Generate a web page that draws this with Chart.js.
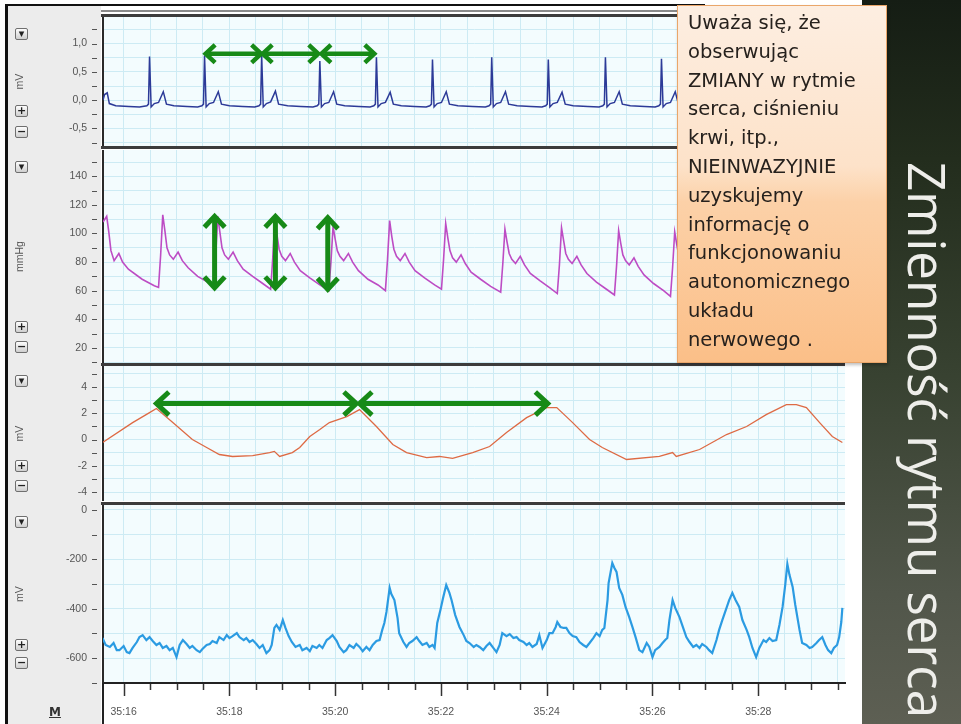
<!DOCTYPE html>
<html><head><meta charset="utf-8">
<script src="https://cdn.jsdelivr.net/npm/chart.js@4.4.1/dist/chart.umd.min.js"></script>
<style>
html,body{margin:0;padding:0;background:#fff;}
#stage{position:relative;width:961px;height:724px;overflow:hidden;background:#fff;font-family:'Liberation Sans',Arial,sans-serif;}
.abs{position:absolute;}
canvas{position:absolute;}
.btn{position:absolute;left:15px;width:11px;height:10px;border:1px solid #6f6f6f;border-radius:2px;background:linear-gradient(#fdfdfd,#cfcfcf);font:bold 11px/10px 'DejaVu Sans',sans-serif;color:#222;text-align:center;}
.sep{position:absolute;left:101px;width:744px;height:3px;background:#3c3c3c;}
#note{position:absolute;left:677px;top:5px;width:210px;height:358px;box-sizing:border-box;border:1px solid #eaa66a;
 background:linear-gradient(180deg,#fdeee1 0%,#fde2c9 45%,#fcd1a8 55%,#fbbf88 100%);box-shadow:1px 2px 3px rgba(0,0,0,.25);
 font-family:'DejaVu Sans',sans-serif;font-size:19.5px;line-height:28.8px;color:#26211d;padding:3px 0 0 10px;white-space:nowrap;}
#side{position:absolute;left:862px;top:0;width:99px;height:724px;background:linear-gradient(180deg,#151d14 0%,#232d1d 22%,#384231 52%,#51564a 82%,#5d5f53 100%);}
#title{position:absolute;left:953px;top:162px;transform:rotate(90deg);transform-origin:0 0;font-family:'Open Sans',sans-serif;font-size:51px;line-height:51px;color:#eeeeea;white-space:nowrap;font-weight:400;}
</style></head><body>
<div id="stage">
 <div id="side"></div>
 <div class="abs" style="left:8px;top:6px;width:93px;height:718px;background:#ececec;"></div>
 <div class="abs" style="left:5px;top:4px;width:3px;height:720px;background:#111;"></div>
 <div class="abs" style="left:5px;top:4px;width:700px;height:2px;background:#111;"></div>
 <div class="abs" style="left:101px;top:10px;width:744px;height:2px;background:#8a8a8a;"></div>
 <canvas id="c1" width="855" height="129" style="left:8px;top:17px;"></canvas>
 <canvas id="c2" width="855" height="213" style="left:8px;top:150px;"></canvas>
 <canvas id="c3" width="855" height="135" style="left:8px;top:366px;"></canvas>
 <canvas id="c4" width="855" height="219" style="left:8px;top:505px;"></canvas>
 <div class="sep" style="top:14px;height:3px;"></div>
 <div class="sep" style="top:146px;"></div>
 <div class="sep" style="top:363px;"></div>
 <div class="sep" style="top:502px;"></div>
 <div class="btn" style="top:28px;">▾</div><div class="btn" style="top:105px;">+</div><div class="btn" style="top:126px;">−</div>
 <div class="btn" style="top:161px;">▾</div><div class="btn" style="top:321px;">+</div><div class="btn" style="top:341px;">−</div>
 <div class="btn" style="top:375px;">▾</div><div class="btn" style="top:460px;">+</div><div class="btn" style="top:480px;">−</div>
 <div class="btn" style="top:516px;">▾</div><div class="btn" style="top:639px;">+</div><div class="btn" style="top:657px;">−</div>
 <div class="abs" style="left:49px;top:705px;font:bold 12px 'DejaVu Sans',sans-serif;color:#333;text-decoration:underline;">M</div>
 <div id="note">Uważa się, że<br>obserwując<br>ZMIANY w rytmie<br>serca, ciśnieniu<br>krwi, itp.,<br>NIEINWAZYJNIE<br>uzyskujemy<br>informację o<br>funkcjonowaniu<br>autonomicznego<br>układu<br>nerwowego .</div>
 <div id="title">Zmienność rytmu serca</div>
</div>
<script>
// ---------- time axis (seconds after 35:00) ----------
const X_MIN = 15.61, X_MAX = 29.64;
const timeLabelSeconds = [16, 18, 20, 22, 24, 26, 28];
const timeLabels = ['35:16', '35:18', '35:20', '35:22', '35:24', '35:26', '35:28'];

// ---------- ECG (mV) ----------
const ecgTime = [15.61,15.64,15.69,15.73,15.85,16.10,16.30,
 16.44,16.47,16.49,16.52,16.58,16.66,16.75,16.81,16.95,17.20,17.40,
 17.48,17.51,17.53,17.56,17.62,17.70,17.79,17.85,18.00,18.25,18.48,
 18.56,18.59,18.61,18.64,18.70,18.78,18.87,18.93,19.10,19.35,19.58,
 19.66,19.69,19.71,19.74,19.80,19.88,19.97,20.03,20.18,20.45,20.66,
 20.73,20.76,20.78,20.81,20.87,20.95,21.04,21.10,21.25,21.50,21.72,
 21.79,21.82,21.84,21.87,21.93,22.01,22.10,22.16,22.32,22.60,22.84,
 22.91,22.94,22.96,22.99,23.05,23.13,23.22,23.28,23.44,23.70,23.91,
 23.98,24.01,24.03,24.06,24.12,24.20,24.29,24.35,24.50,24.78,24.99,
 25.06,25.09,25.11,25.14,25.20,25.28,25.37,25.43,25.58,25.85,26.05,
 26.12,26.15,26.17,26.20,26.26,26.34,26.43,26.49,26.64,26.92,27.13,
 27.20,27.23,27.25,27.28,27.34,27.42,27.51,27.57,27.72,28.00,28.21,
 28.28,28.31,28.33,28.36,28.42,28.50,28.59,28.65,28.80,29.05,29.28,
 29.35,29.38,29.40,29.43,29.49,29.57,29.64];
const ecgMv = [0.00,0.10,0.13,-0.06,-0.10,-0.11,-0.12,
 -0.10,-0.07,0.77,-0.12,-0.06,-0.04,0.15,-0.07,-0.10,-0.11,-0.12,
 -0.10,-0.07,0.79,-0.12,-0.06,-0.04,0.15,-0.07,-0.10,-0.11,-0.12,
 -0.10,-0.07,0.80,-0.12,-0.06,-0.03,0.16,-0.07,-0.10,-0.11,-0.12,
 -0.10,-0.07,0.69,-0.12,-0.06,-0.04,0.15,-0.07,-0.10,-0.11,-0.12,
 -0.10,-0.07,0.76,-0.12,-0.06,-0.04,0.14,-0.07,-0.10,-0.11,-0.12,
 -0.10,-0.07,0.72,-0.12,-0.06,-0.04,0.15,-0.07,-0.10,-0.11,-0.12,
 -0.10,-0.07,0.76,-0.12,-0.06,-0.04,0.15,-0.07,-0.10,-0.11,-0.12,
 -0.10,-0.07,0.72,-0.12,-0.06,-0.04,0.14,-0.07,-0.10,-0.11,-0.12,
 -0.10,-0.07,0.76,-0.12,-0.06,-0.04,0.15,-0.07,-0.10,-0.11,-0.12,
 -0.10,-0.07,0.73,-0.12,-0.06,-0.04,0.15,-0.07,-0.10,-0.11,-0.12,
 -0.10,-0.07,0.74,-0.12,-0.06,-0.04,0.15,-0.07,-0.10,-0.11,-0.12,
 -0.10,-0.07,0.73,-0.12,-0.06,-0.04,0.15,-0.07,-0.10,-0.11,-0.12,
 -0.10,-0.07,0.75,-0.12,-0.06,-0.04,0.05];

// ---------- blood pressure (mmHg) ----------
const bpTime = [15.61,15.68,15.72,15.76,15.82,15.91,15.98,16.09,16.35,16.58,
 16.66,16.70,16.74,16.78,16.82,16.87,16.94,17.03,17.11,17.22,17.40,17.59,
 17.70,17.74,17.78,17.82,17.86,17.91,17.98,18.07,18.15,18.26,18.44,18.63,
 18.78,18.82,18.86,18.90,18.94,18.99,19.06,19.15,19.23,19.34,19.52,19.71,
 19.88,19.92,19.96,20.00,20.04,20.09,20.16,20.25,20.33,20.44,20.62,20.81,
 20.95,20.99,21.03,21.07,21.11,21.16,21.23,21.32,21.40,21.51,21.69,21.88,
 22.01,22.05,22.09,22.13,22.17,22.22,22.29,22.38,22.46,22.57,22.75,22.94,
 23.13,23.17,23.21,23.25,23.29,23.34,23.41,23.50,23.58,23.69,23.87,24.06,
 24.20,24.24,24.28,24.32,24.36,24.41,24.48,24.57,24.65,24.76,24.94,25.13,
 25.28,25.32,25.36,25.40,25.44,25.49,25.56,25.65,25.73,25.84,26.02,26.21,
 26.34,26.38,26.42,26.46,26.50,26.55,26.62,26.71,26.79,26.90,27.08,27.27,
 27.42,27.46,27.50,27.54,27.58,27.63,27.70,27.79,27.87,27.98,28.16,28.35,
 28.50,28.54,28.58,28.62,28.66,28.71,28.78,28.87,28.95,29.06,29.24,29.43,
 29.57,29.64];
const bpMmHg = [108,112,101,88,81,86,80,75,68,63.5,
 62.3,85,113,102,90,85,82,87,81,76,70,66,
 62,84,112,101,90,85,82,87,81,75,70,65,
 61,83,110,99,89,84,81,86,80,74,69,64,
 60,80,105,96,88,84,81,86,80,74,68,64,
 60,82,109,98,89,84,81,86,80,74,69,64,
 61,82,107,97,88,83,80,85,79,73,68,63,
 59,79,103,94,86,82,79,84,78,72,67,62,
 58,78,104,95,86,82,79,84,78,72,66,61,
 57,77,102,93,85,81,78,83,77,71,65,60,
 56,76,101,92,84,80,77,82,76,70,65,60,
 57,78,103,94,85,81,78,83,77,71,66,61,
 57,77,102,93,85,81,78,83,77,71,66,61,
 58,84];

// ---------- respiration (mV) ----------
const respTime = [15.60,16.17,16.49,16.62,16.93,17.30,17.57,17.81,18.06,18.44,18.76,18.85,18.95,19.19,19.33,19.52,19.71,19.89,20.22,20.46,
 20.78,21.09,21.35,21.73,21.97,22.22,22.60,22.92,23.24,23.62,24.00,24.19,24.49,24.81,25.05,25.51,26.13,26.38,26.45,26.89,
 27.40,27.78,28.15,28.53,28.72,28.91,29.16,29.40,29.59];
const respMv = [-0.23,1.29,2.05,2.36,1.29,0.00,-0.61,-1.14,-1.29,-1.22,-0.99,-0.90,-1.29,-0.99,-0.61,0.23,0.76,1.29,1.75,2.28,
 0.99,-0.38,-0.99,-1.37,-1.29,-1.44,-0.99,-0.53,0.53,1.67,2.43,2.43,1.29,0.00,-0.61,-1.52,-1.29,-0.99,-1.29,-0.76,
 0.38,0.99,1.90,2.66,2.66,2.43,1.29,0.23,-0.23];

// ---------- channel 4 (mV) ----------
const ch4Time = [15.60,15.66,15.74,15.81,15.87,15.92,16.00,16.06,16.11,16.17,16.25,16.30,16.36,16.43,16.49,16.55,16.62,16.68,16.74,16.81,
 16.87,16.93,17.00,17.06,17.12,17.19,17.25,17.30,17.38,17.44,17.49,17.57,17.63,17.68,17.76,17.81,17.89,17.95,18.00,18.06,
 18.14,18.19,18.27,18.32,18.38,18.44,18.51,18.57,18.63,18.70,18.76,18.80,18.85,18.89,18.95,19.01,19.06,19.12,19.18,19.25,
 19.33,19.38,19.46,19.52,19.57,19.65,19.70,19.76,19.84,19.89,19.95,20.03,20.08,20.16,20.21,20.27,20.35,20.40,20.46,20.52,
 20.59,20.65,20.71,20.78,20.84,20.89,20.93,20.97,21.03,21.06,21.12,21.18,21.21,21.29,21.35,21.40,21.46,21.54,21.59,21.65,
 21.73,21.78,21.84,21.88,21.93,21.99,22.04,22.10,22.16,22.20,22.27,22.35,22.43,22.48,22.54,22.62,22.67,22.73,22.80,22.86,
 22.92,22.99,23.05,23.11,23.16,23.24,23.30,23.37,23.43,23.48,23.56,23.62,23.67,23.73,23.81,23.86,23.92,24.00,24.05,24.11,
 24.17,24.20,24.26,24.32,24.37,24.43,24.49,24.56,24.62,24.69,24.75,24.81,24.88,24.94,25.00,25.05,25.09,25.15,25.17,25.24,
 25.28,25.32,25.37,25.43,25.49,25.56,25.62,25.68,25.75,25.81,25.89,25.94,26.00,26.05,26.13,26.19,26.24,26.28,26.32,26.38,
 26.43,26.51,26.58,26.64,26.70,26.77,26.83,26.89,26.94,27.02,27.07,27.13,27.21,27.26,27.32,27.40,27.45,27.51,27.57,27.64,
 27.70,27.78,27.83,27.89,27.96,28.02,28.10,28.15,28.21,28.27,28.34,28.40,28.46,28.51,28.55,28.59,28.65,28.70,28.78,28.83,
 28.91,28.97,29.02,29.10,29.15,29.21,29.27,29.32,29.38,29.43,29.49,29.53,29.57,29.59];
const ch4Mv = [-519,-547,-555,-539,-568,-568,-551,-576,-580,-559,-535,-515,-507,-527,-515,-531,-547,-539,-559,-551,
 -568,-559,-596,-547,-527,-543,-559,-551,-568,-576,-563,-547,-543,-531,-539,-515,-527,-507,-519,-511,
 -499,-515,-527,-519,-535,-527,-543,-559,-547,-580,-568,-547,-478,-466,-486,-446,-478,-511,-535,-555,
 -547,-568,-559,-572,-551,-559,-547,-559,-527,-519,-507,-531,-555,-576,-568,-547,-559,-543,-555,-572,
 -555,-568,-547,-531,-527,-486,-458,-413,-316,-340,-365,-438,-499,-535,-555,-539,-531,-515,-531,-547,
 -539,-555,-547,-559,-458,-405,-357,-304,-336,-365,-426,-474,-507,-531,-539,-555,-547,-555,-568,-551,
 -539,-559,-576,-547,-499,-511,-503,-519,-515,-527,-535,-547,-539,-555,-543,-507,-559,-527,-499,-499,
 -474,-454,-474,-478,-478,-499,-511,-515,-535,-547,-555,-539,-519,-499,-511,-486,-478,-365,-296,-215,
 -235,-251,-316,-344,-393,-434,-474,-515,-568,-576,-539,-555,-596,-568,-555,-539,-527,-519,-446,-365,
 -397,-434,-478,-515,-535,-555,-547,-559,-543,-555,-568,-580,-527,-486,-446,-397,-365,-336,-365,-393,
 -446,-486,-515,-559,-596,-559,-527,-535,-519,-531,-527,-466,-393,-304,-219,-263,-312,-385,-486,-539,
 -547,-559,-555,-539,-527,-515,-547,-568,-580,-559,-547,-515,-454,-397];

// ---------- y tick labels ----------
const ecgTickValues = [1, 0.5, 0, -0.5];
const ecgTickLabels = ['1,0', '0,5', '0,0', '-0,5'];
const bpTickValues = [140, 120, 100, 80, 60, 40, 20];
const bpTickLabels = ['140', '120', '100', '80', '60', '40', '20'];
const respTickValues = [4, 2, 0, -2, -4];
const respTickLabels = ['4', '2', '0', '-2', '-4'];
const ch4TickValues = [0, -200, -400, -600];
const ch4TickLabels = ['0', '-200', '-400', '-600'];

// ---------- annotation arrows (data units) ----------
const ecgArrows = [[17.55, 0.82, 18.60, 0.82], [18.63, 0.82, 19.68, 0.82], [19.74, 0.82, 20.74, 0.82]];
const bpArrows = [[17.72, 62, 17.72, 112], [18.87, 62, 18.87, 112], [19.86, 61, 19.86, 111]];
const respArrows = [[16.62, 2.74, 20.40, 2.74], [20.46, 2.74, 24.02, 2.74]];

// ---------- drawing ----------
const GRID = '#cdebf4';
const AX_W = 95;
const pts = (t, v) => t.map((x, i) => ({x, y: v[i]}));

function drawArrow(ctx, x1, y1, x2, y2, head, w) {
  const ang = Math.atan2(y2 - y1, x2 - x1);
  ctx.lineWidth = w; ctx.lineCap = 'butt'; ctx.lineJoin = 'miter';
  ctx.beginPath(); ctx.moveTo(x1 + Math.cos(ang) * 3, y1 + Math.sin(ang) * 3);
  ctx.lineTo(x2 - Math.cos(ang) * 3, y2 - Math.sin(ang) * 3); ctx.stroke();
  const ends = [[x2, y2, ang], [x1, y1, ang + Math.PI]];
  for (const [px, py, a] of ends) {
    ctx.beginPath();
    ctx.moveTo(px - head * Math.cos(a - 0.75), py - head * Math.sin(a - 0.75));
    ctx.lineTo(px, py);
    ctx.lineTo(px - head * Math.cos(a + 0.75), py - head * Math.sin(a + 0.75));
    ctx.stroke();
  }
}

const panelPlugin = {
  id: 'panel',
  beforeDraw(chart) {
    const {ctx, chartArea: a} = chart;
    ctx.save(); ctx.fillStyle = '#f3fcfe';
    ctx.fillRect(a.left, a.top, a.right - a.left, a.bottom - a.top); ctx.restore();
  },
  afterDraw(chart, args, opts) {
    const {ctx, chartArea: a, scales} = chart;
    ctx.save();
    ctx.strokeStyle = '#555'; ctx.lineWidth = 1;
    scales.y.ticks.forEach(t => {
      const p = Math.round(scales.y.getPixelForValue(t.value)) + 0.5;
      ctx.beginPath(); ctx.moveTo(a.left - 11, p); ctx.lineTo(a.left - 6, p); ctx.stroke();
    });
    if (opts.xTicks) {
      ctx.strokeStyle = '#333'; ctx.lineWidth = 1.5;
      scales.x.ticks.forEach(t => {
        const p = Math.round(scales.x.getPixelForValue(t.value)) + 0.5;
        const major = timeLabelSeconds.some(s => Math.abs(s - t.value) < 1e-6);
        ctx.beginPath(); ctx.moveTo(p, a.bottom + 1); ctx.lineTo(p, a.bottom + (major ? 13 : 7)); ctx.stroke();
      });
      ctx.lineWidth = 2; ctx.strokeStyle = '#222';
      ctx.beginPath(); ctx.moveTo(a.left, a.bottom); ctx.lineTo(a.left, chart.height); ctx.stroke();
    }
    ctx.strokeStyle = '#178a17';
    (opts.arrows || []).forEach(([t1, v1, t2, v2]) => {
      drawArrow(ctx, scales.x.getPixelForValue(t1), scales.y.getPixelForValue(v1),
        scales.x.getPixelForValue(t2), scales.y.getPixelForValue(v2), opts.head, opts.width);
    });
    ctx.restore();
  }
};

function yAxis(min, max, step, vals, txt, title) {
  return {
    type: 'linear', position: 'left', min, max,
    afterFit(s) { s.width = AX_W; s.paddingTop = 0; s.paddingBottom = 0; },
    ticks: {
      stepSize: step, includeBounds: false, autoSkip: false, padding: 16, color: '#555',
      font: {family: 'Liberation Sans', size: 10.5},
      callback(v) { const i = vals.findIndex(l => Math.abs(l - v) < 1e-6); return i >= 0 ? txt[i] : ''; }
    },
    grid: {color: GRID, lineWidth: 1, drawTicks: false},
    border: {display: true, color: '#2a2a2a', width: 2},
    title: {display: true, text: title, color: '#555', font: {family: 'Liberation Sans', size: 10.5}, padding: {top: 6, bottom: 0}}
  };
}
function xAxis(show) {
  return {
    type: 'linear', min: X_MIN, max: X_MAX,
    afterFit(s) { s.height = show ? 41 : 0; s.paddingLeft = 0; s.paddingRight = 0; },
    ticks: {
      display: show, stepSize: 0.5, includeBounds: false, autoSkip: false, maxRotation: 0, padding: 23,
      color: '#555', font: {family: 'Liberation Sans', size: 10.5},
      callback(v) { const i = timeLabelSeconds.findIndex(s => Math.abs(s - v) < 1e-6); return i >= 0 ? timeLabels[i] : ''; }
    },
    grid: {color: GRID, lineWidth: 1, drawTicks: false},
    border: {display: show, color: '#222', width: 2}
  };
}
function makeChart(id, data, color, width, y, showX, arrows, head, aw) {
  return new Chart(document.getElementById(id), {
    type: 'line',
    data: {datasets: [{data, borderColor: color, borderWidth: width, pointRadius: 0, tension: 0, fill: false}]},
    options: {
      responsive: false, animation: false, devicePixelRatio: 1,
      layout: {padding: {left: 0, right: 18, top: 0, bottom: 0}},
      plugins: {legend: {display: false}, tooltip: {enabled: false},
        panel: {xTicks: showX, arrows, head, width: aw}},
      scales: {x: xAxis(showX), y}
    },
    plugins: [panelPlugin]
  });
}

makeChart('c1', pts(ecgTime, ecgMv), '#2c3a98', 1.5, yAxis(-0.81, 1.47, 0.25, ecgTickValues, ecgTickLabels, 'mV'), false, ecgArrows, 13, 4.5);
makeChart('c2', pts(bpTime, bpMmHg), '#bd4cc4', 1.6, yAxis(9.4, 158.4, 10, bpTickValues, bpTickLabels, 'mmHg'), false, bpArrows, 15, 5);
makeChart('c3', pts(respTime, respMv), '#de6a44', 1.3, yAxis(-4.68, 5.6, 1, respTickValues, respTickLabels, 'mV'), false, respArrows, 17, 5);
makeChart('c4', pts(ch4Time, ch4Mv), '#2b9be2', 2.2, yAxis(-701, 20, 100, ch4TickValues, ch4TickLabels, 'mV'), true, [], 0, 0);
</script>
</body></html>
